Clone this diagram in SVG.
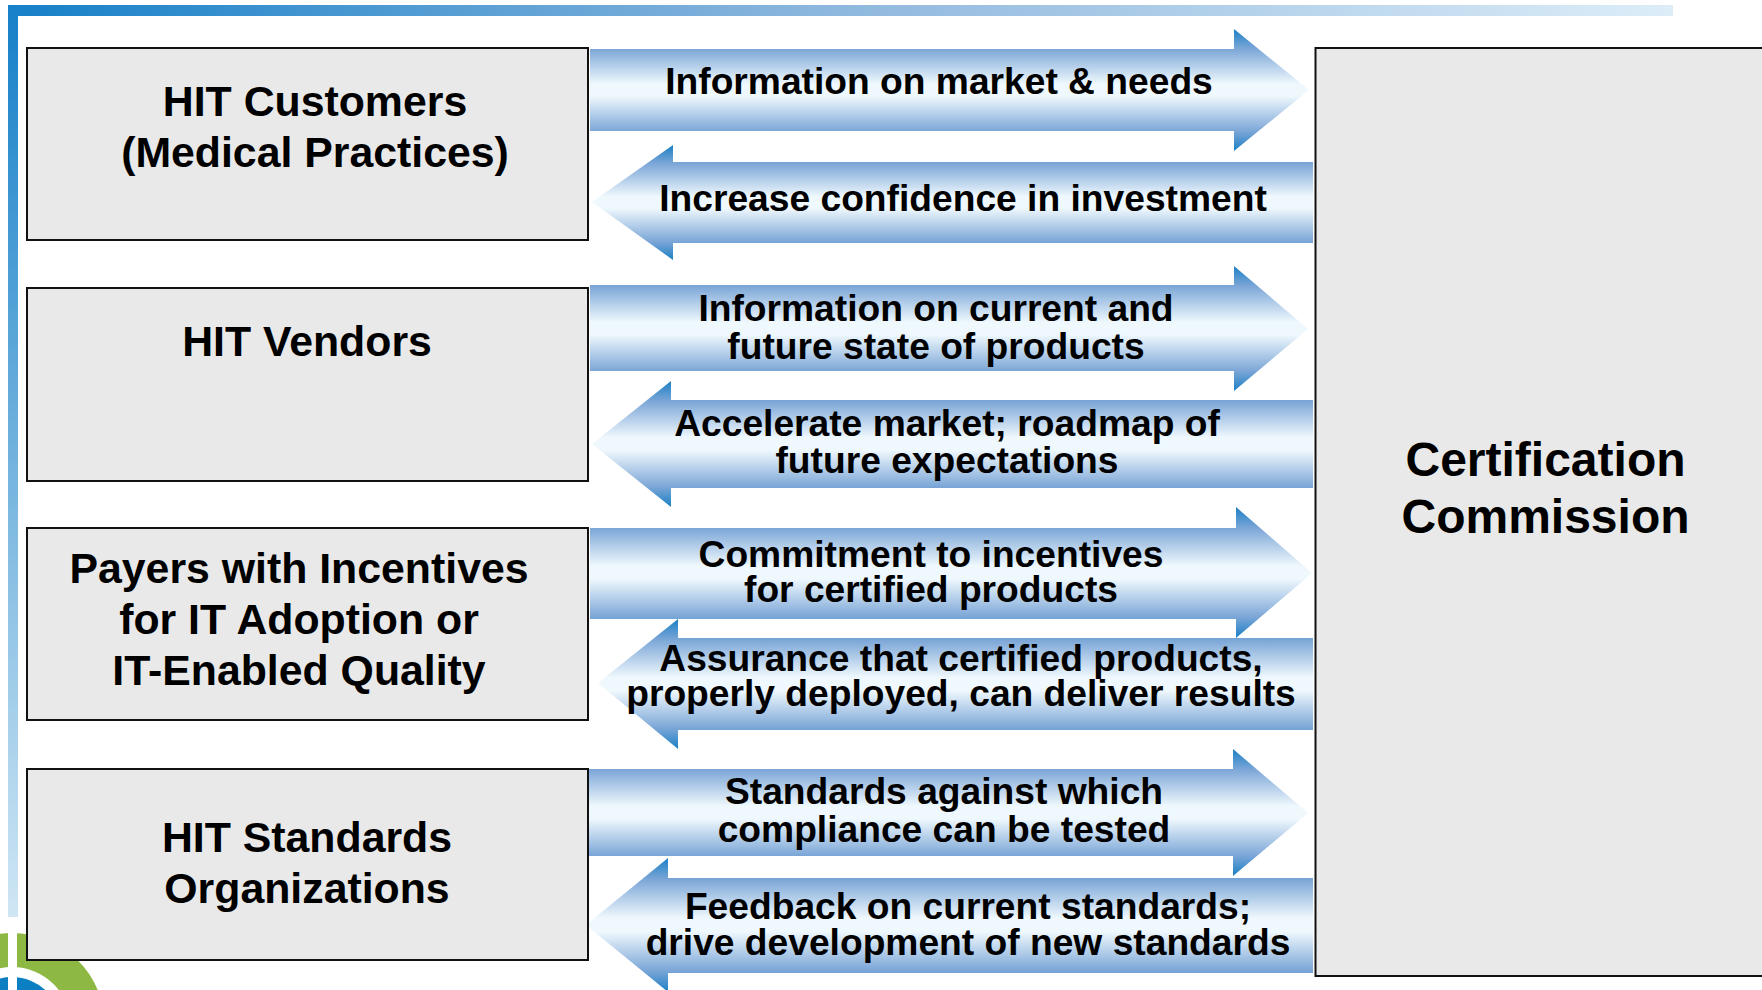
<svg xmlns="http://www.w3.org/2000/svg" width="1762" height="990" viewBox="0 0 1762 990">
<style>
text{font-family:"Liberation Sans",Arial,sans-serif;font-weight:bold;fill:#000;text-anchor:middle}
.box{fill:#e9e9e9;stroke:#111;stroke-width:2}
.n{font-size:42.8px}
.c{font-size:48px}
.a{font-size:37.2px}
.arrow{fill:url(#ag)}
</style>
<defs>
<linearGradient id="ag" x1="0" y1="0" x2="0" y2="1">
<stop offset="0" stop-color="#1b80c5"/><stop offset="0.16" stop-color="#7ba6d7"/><stop offset="0.45" stop-color="#eff8fd"/><stop offset="0.55" stop-color="#eff8fd"/><stop offset="0.84" stop-color="#7ba6d7"/><stop offset="1" stop-color="#1b80c5"/>
</linearGradient>
<linearGradient id="tb" x1="0" y1="0" x2="1" y2="0"><stop offset="0" stop-color="#1680c8"/><stop offset="0.5" stop-color="#8fb8de"/><stop offset="1" stop-color="#dcedf8"/></linearGradient>
<linearGradient id="lb" x1="0" y1="0" x2="0" y2="1"><stop offset="0" stop-color="#1680c8"/><stop offset="1" stop-color="#cfe6f4"/></linearGradient>
</defs>
<g id="frame">
<rect x="8" y="5" width="1665" height="11" fill="url(#tb)"/>
<rect x="8" y="5" width="10" height="912" fill="url(#lb)"/>
</g>
<g id="logo">
<circle cx="12" cy="1026" r="93" fill="#8db843"/>
<circle cx="12" cy="1026" r="59" fill="#fff"/>
<circle cx="12" cy="1026" r="49" fill="#0b7fc2"/>
<rect x="8" y="925" width="9" height="65" fill="#fff"/>
</g>
<g id="connectors">
<polygon class="arrow" points="590,49 1234,49 1234,29 1309,90 1234,151 1234,131 590,131"/>
<polygon class="arrow" points="592,202 673,145 673,162 1313,162 1313,243 673,243 673,260"/>
<polygon class="arrow" points="590,285 1234,285 1234,266 1308,329 1234,391 1234,371 590,371"/>
<polygon class="arrow" points="592,444 671,381 671,400 1313,400 1313,488 671,488 671,507"/>
<polygon class="arrow" points="590,528 1236,528 1236,507 1312,573 1236,638 1236,619 590,619"/>
<polygon class="arrow" points="598,683 678,619 678,638 1313,638 1313,730 678,730 678,749"/>
<polygon class="arrow" points="588,769 1233,769 1233,749 1308,813 1233,876 1233,856 588,856"/>
<polygon class="arrow" points="586,925 668,858 668,878 1313,878 1313,973 668,973 668,992"/>
<text class="a" x="939" y="94">Information on market &amp; needs</text>
<text class="a" x="963" y="211">Increase confidence in investment</text>
<text class="a" x="936" y="321">Information on current and</text>
<text class="a" x="936" y="359">future state of products</text>
<text class="a" x="947" y="436">Accelerate market; roadmap of</text>
<text class="a" x="947" y="473">future expectations</text>
<text class="a" x="931" y="567">Commitment to incentives</text>
<text class="a" x="931" y="602">for certified products</text>
<text class="a" x="961" y="671">Assurance that certified products,</text>
<text class="a" x="961" y="706">properly deployed, can deliver results</text>
<text class="a" x="944" y="804">Standards against which</text>
<text class="a" x="944" y="842">compliance can be tested</text>
<text class="a" x="968" y="919">Feedback on current standards;</text>
<text class="a" x="968" y="955">drive development of new standards</text>
</g>
<g id="hit-customers">
<rect class="box" x="27" y="48" width="561" height="192"/>
<text class="n" x="315" y="116">HIT Customers</text>
<text class="n" x="315" y="167">(Medical Practices)</text>
</g>
<g id="hit-vendors">
<rect class="box" x="27" y="288" width="561" height="193"/>
<text class="n" x="307" y="356">HIT Vendors</text>
</g>
<g id="payers">
<rect class="box" x="27" y="528" width="561" height="192"/>
<text class="n" x="299" y="583">Payers with Incentives</text>
<text class="n" x="299" y="634">for IT Adoption or</text>
<text class="n" x="299" y="685">IT-Enabled Quality</text>
</g>
<g id="hit-standards">
<rect class="box" x="27" y="769" width="561" height="191"/>
<text class="n" x="307" y="852">HIT Standards</text>
<text class="n" x="307" y="903">Organizations</text>
</g>
<g id="certification-commission">
<rect class="box" x="1315.5" y="48" width="460" height="928"/>
<text class="c" x="1545.5" y="476">Certification</text>
<text class="c" x="1545.5" y="533">Commission</text>
</g>
</svg>
